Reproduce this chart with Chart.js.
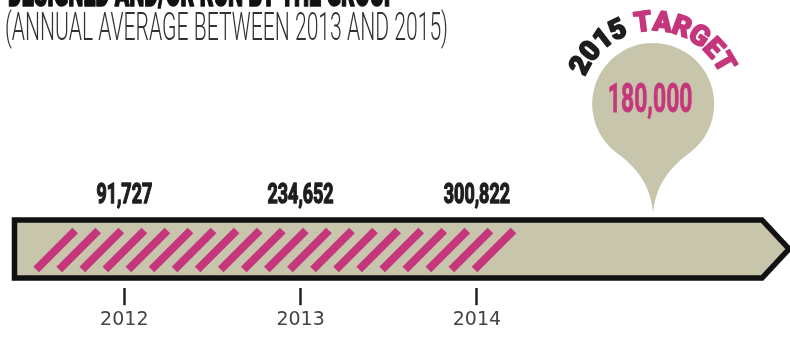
<!DOCTYPE html>
<html>
<head>
<meta charset="utf-8">
<script src="https://cdn.jsdelivr.net/npm/chart.js@4"></script>
<style>
  html, body { margin: 0; padding: 0; background: #fff; }
</style>
</head>
<body>
<canvas id="chart" width="790" height="337"></canvas>
<script>
// timeline data
const years = [2012, 2013, 2014];
const yearLabels = ['2012', '2013', '2014'];
const values = [91727, 234652, 300822];
const targetYear = 2015;
const targetValue = 180000;
const progressStart = 2011.5;   // hatching starts here
const progressEnd = 2014.25;    // hatching stops here

const title = 'DESIGNED AND/OR RUN BY THE GROUP';
const subtitle = '(ANNUAL AVERAGE BETWEEN 2013 AND 2015)';
const targetWords = ['2015', 'TARGET'];

const BEIGE = '#c7c5ab';
const PINK = '#c5367c';
const INK = '#1e1e1e';

// draws text squeezed horizontally (stand-in for a condensed face)
function squeezedText(ctx, text, x, y, font, color, squeeze, align, boost) {
  ctx.save();
  ctx.font = font;
  ctx.fillStyle = color;
  ctx.textAlign = 'left';
  ctx.textBaseline = 'alphabetic';
  const w = ctx.measureText(text).width * squeeze;
  const left = align === 'center' ? x - w / 2 : x;
  ctx.translate(left, y);
  ctx.scale(squeeze, 1);
  ctx.fillText(text, 0, 0);
  if (boost) {
    // fake a heavier weight
    ctx.strokeStyle = color;
    ctx.lineWidth = boost;
    ctx.lineJoin = 'round';
    ctx.strokeText(text, 0, 0);
  }
  ctx.restore();
}

// same, but squeezed to fill a given width
function fittedText(ctx, text, x, y, font, color, width, boost) {
  ctx.save();
  ctx.font = font;
  const s = width / ctx.measureText(text).width;
  ctx.restore();
  squeezedText(ctx, text, x, y, font, color, s, 'left', boost);
}

const fmt = n => n.toLocaleString('en-US');

const timelinePlugin = {
  id: 'timeline',
  beforeDatasetsDraw(chart) {
    const ctx = chart.ctx;
    const xs = chart.scales.x;
    const area = chart.chartArea;

    // the arrow bar
    const left = area.left + 14.5, right = area.right;
    const top = 220, bottom = 278, mid = (top + bottom) / 2;
    ctx.save();
    ctx.beginPath();
    ctx.moveTo(left, top);
    ctx.lineTo(right - 28, top);
    ctx.lineTo(right - 1, mid);
    ctx.lineTo(right - 28, bottom);
    ctx.lineTo(left, bottom);
    ctx.closePath();
    ctx.fillStyle = BEIGE;
    ctx.fill();
    ctx.lineWidth = 5.5;
    ctx.lineJoin = 'miter';
    ctx.strokeStyle = '#111';
    ctx.stroke();

    // hatched progress
    const sx0 = xs.getPixelForValue(progressStart);
    const sx1 = xs.getPixelForValue(progressEnd);
    ctx.strokeStyle = PINK;
    ctx.lineWidth = 8;
    ctx.lineCap = 'butt';
    for (let x = sx0; x + 39 <= sx1; x += 23.07) {
      ctx.beginPath();
      ctx.moveTo(x, 269.5);
      ctx.lineTo(x + 39, 230.5);
      ctx.stroke();
    }
    ctx.restore();
  },
  afterDatasetsDraw(chart) {
    const ctx = chart.ctx;
    const xs = chart.scales.x;

    // header
    fittedText(ctx, title, 8, 6, '900 38px Roboto', '#111', 390, 1.5);
    fittedText(ctx, subtitle, 5, 40, '300 39px Roboto', '#333', 443);

    // yearly values
    years.forEach((yr, i) => {
      squeezedText(ctx, fmt(values[i]), xs.getPixelForValue(yr), 203,
        'bold 28px Roboto', INK, 0.64, 'center', 1.5);
    });

    // target pin
    const px = xs.getPixelForValue(targetYear);
    const cy = 104, r = 61;
    const a = 53 * Math.PI / 180;
    ctx.save();
    ctx.beginPath();
    ctx.arc(px, cy, r, Math.PI - a, a);
    ctx.bezierCurveTo(px + 24, cy + 58, px + 3, cy + 75, px, cy + 109);
    ctx.bezierCurveTo(px - 3, cy + 75, px - 24, cy + 58, px - r * Math.cos(a), cy + r * Math.sin(a));
    ctx.closePath();
    ctx.fillStyle = BEIGE;
    ctx.fill();
    ctx.restore();

    squeezedText(ctx, fmt(targetValue), px - 3, 112, 'bold 41px Roboto', PINK, 0.56, 'center', 0.8);

    // curved "2015 TARGET"
    ctx.save();
    ctx.font = '900 28px Roboto';
    ctx.textAlign = 'center';
    ctx.textBaseline = 'alphabetic';
    ctx.lineWidth = 1.6;
    ctx.lineJoin = 'round';
    const R = 83.5, Rb = 73.5;
    const chars = [];
    targetWords.forEach((w, wi) => {
      if (wi > 0) chars.push({ ch: ' ', color: INK });
      for (const ch of w) chars.push({ ch, color: wi === 0 ? INK : PINK });
    });
    const widths = chars.map(c => ctx.measureText(c.ch).width + 1.5);
    const total = widths.reduce((s, w) => s + w, 0);
    let ang = -91 * Math.PI / 180 - total / R / 2;
    chars.forEach((c, i) => {
      const th = ang + widths[i] / R / 2;
      ang += widths[i] / R;
      if (c.ch === ' ') return;
      ctx.save();
      ctx.translate(px + Rb * Math.cos(th), cy + Rb * Math.sin(th));
      ctx.rotate(th + Math.PI / 2);
      ctx.fillStyle = c.color;
      ctx.strokeStyle = c.color;
      ctx.fillText(c.ch, 0, 0);
      ctx.strokeText(c.ch, 0, 0);
      ctx.restore();
    });
    ctx.restore();
  }
};

new Chart(document.getElementById('chart'), {
  type: 'scatter',
  data: {
    datasets: [
      { label: 'Annual figure', data: years.map((yr, i) => ({ x: yr, y: 0.5 })), pointRadius: 0 },
      { label: 'Target', data: [{ x: targetYear, y: 0.5 }], pointRadius: 0 }
    ]
  },
  options: {
    responsive: false,
    animation: false,
    layout: { padding: { left: 0, right: 0, top: 0, bottom: 3 } },
    plugins: {
      legend: { display: false },
      tooltip: { enabled: false }
    },
    scales: {
      x: {
        type: 'linear',
        min: 2011.295,
        max: 2015.776,
        afterBuildTicks: axis => { axis.ticks = years.map(v => ({ value: v })); },
        grid: { drawOnChartArea: false, drawTicks: true, tickLength: 17, tickWidth: 2.5, tickColor: '#222' },
        border: { display: false },
        ticks: {
          font: { family: 'DejaVu Sans', size: 19 },
          color: '#444',
          padding: 3,
          maxRotation: 0,
          callback: v => yearLabels[years.indexOf(v)]
        }
      },
      y: { display: false, min: 0, max: 1 }
    }
  },
  plugins: [timelinePlugin]
});
</script>
</body>
</html>
